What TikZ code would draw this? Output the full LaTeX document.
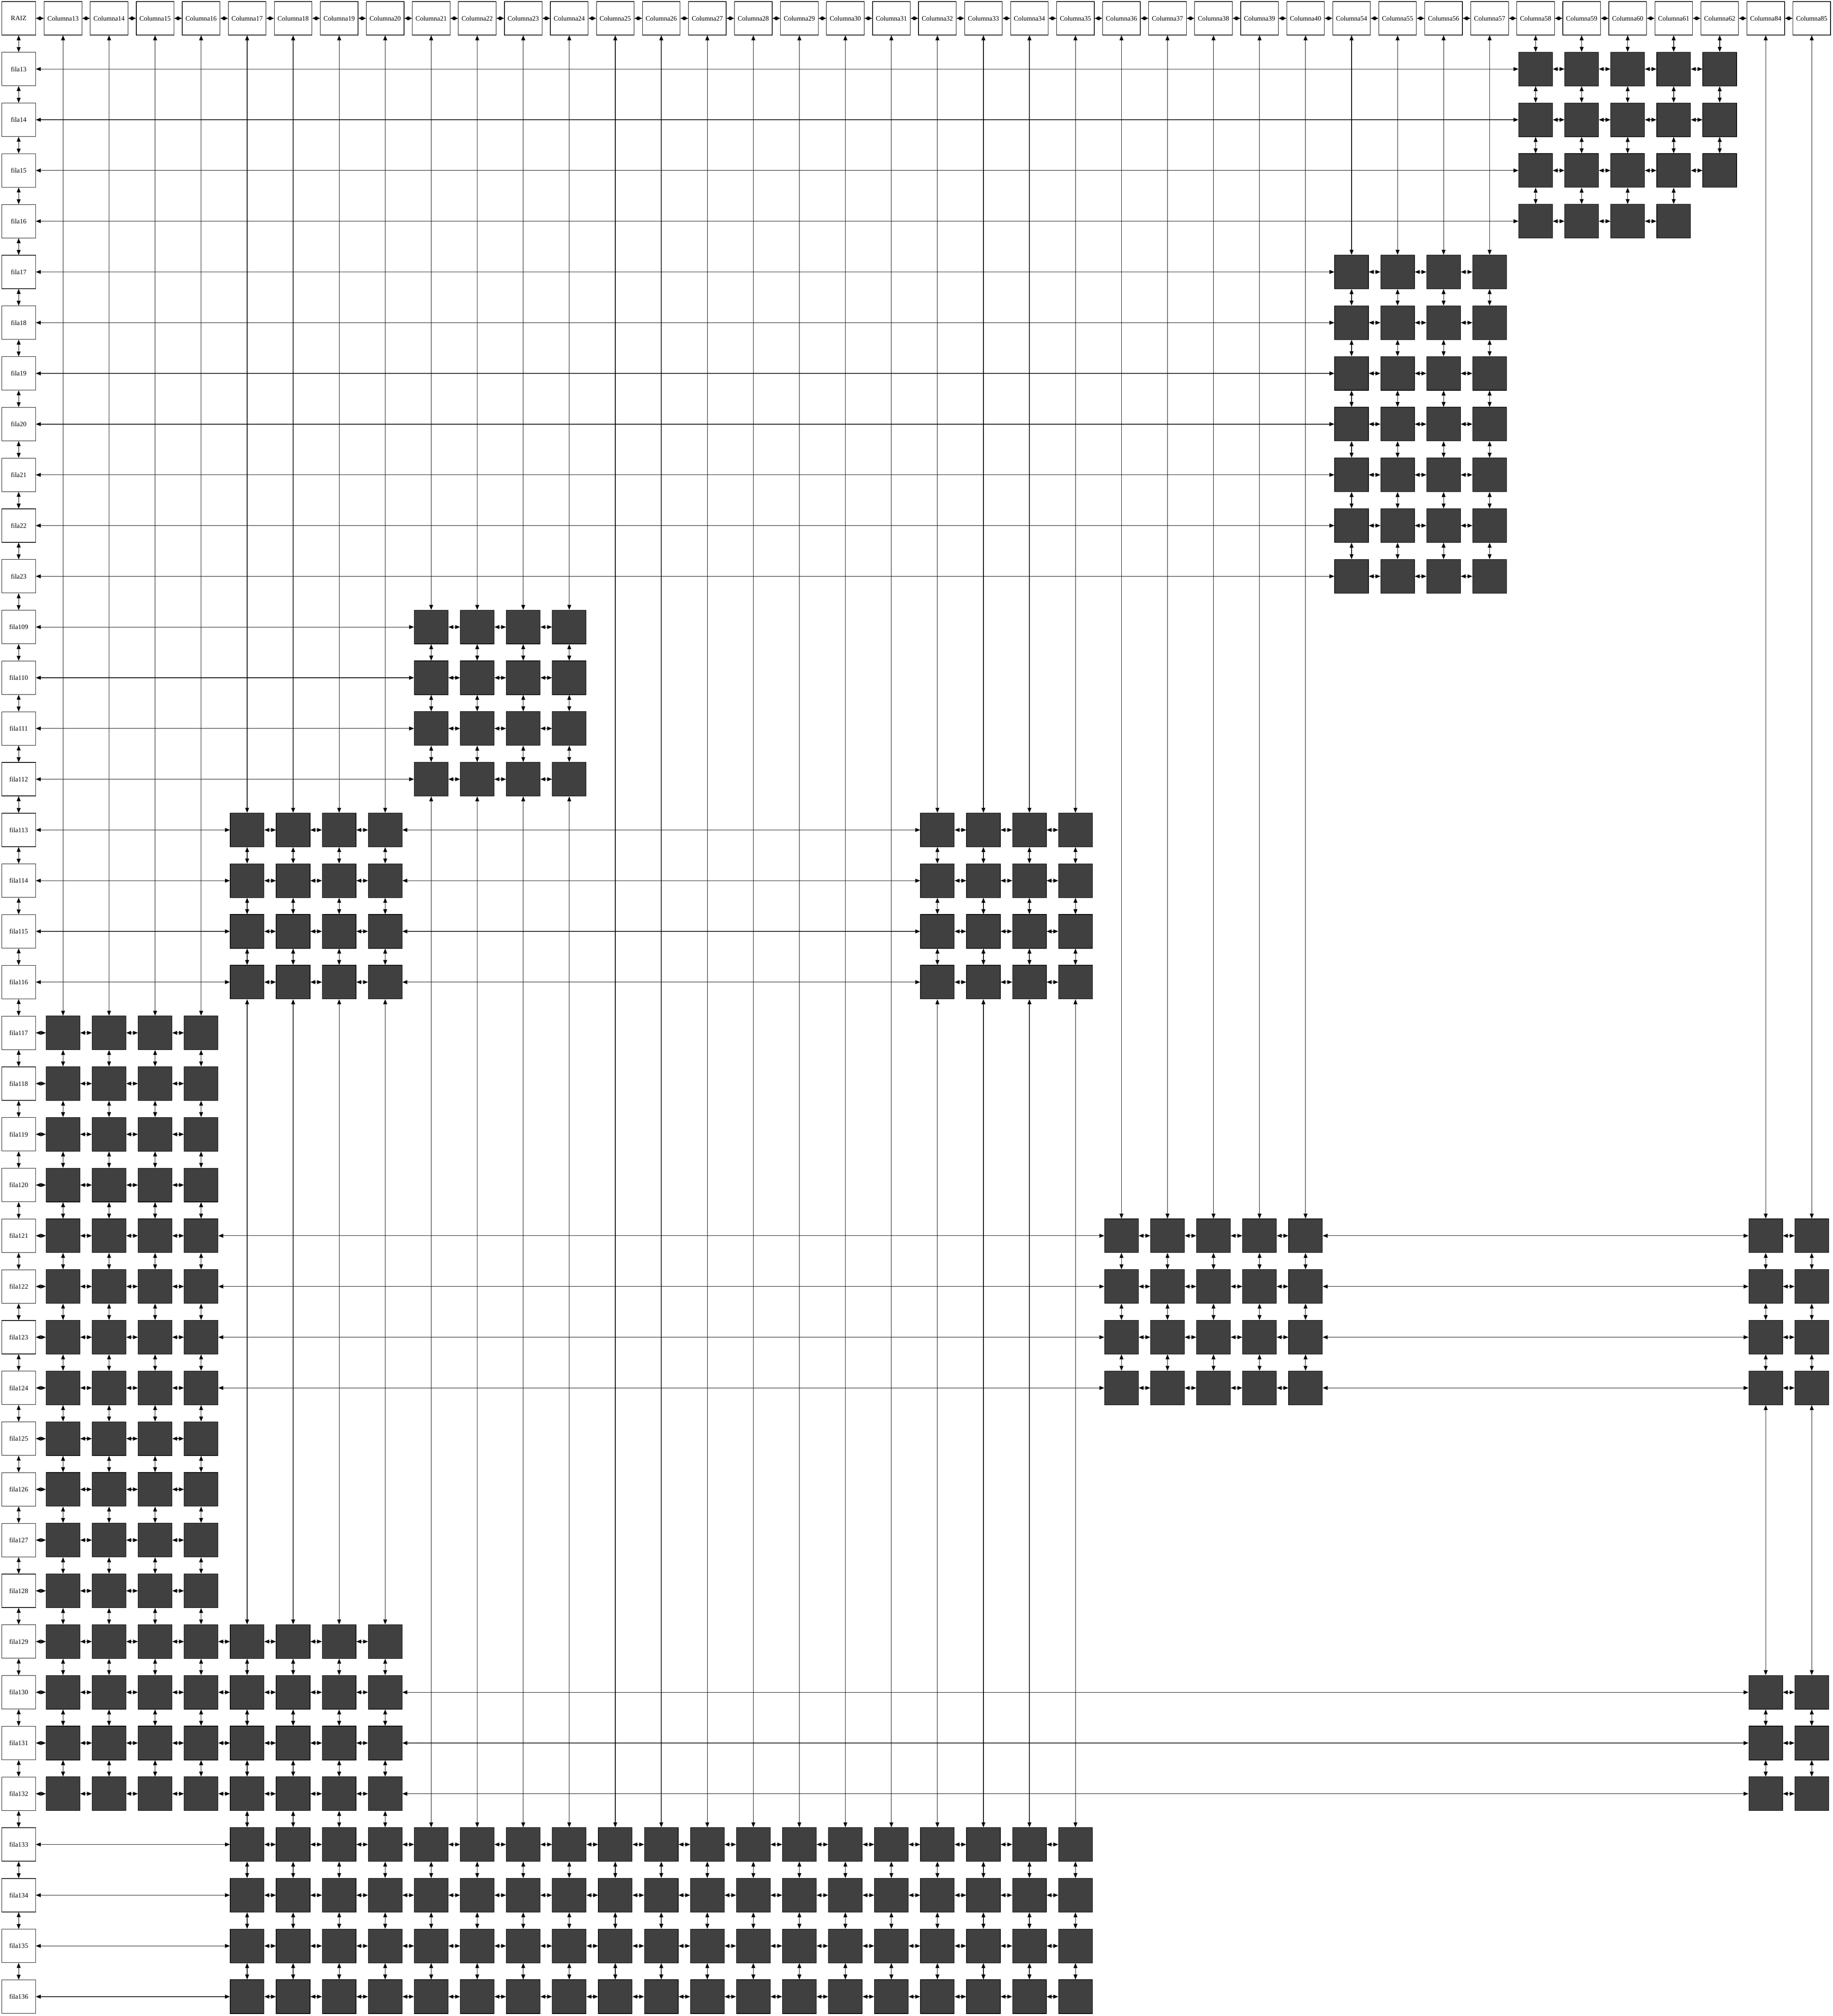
\documentclass[tikz,border=0pt]{standalone}
\usepackage{fontspec}
\setmainfont{Liberation Serif}
\usepackage{tikz}
\usetikzlibrary{arrows.meta}
\definecolor{celda}{RGB}{64,64,64}

\tikzset{
    cab/.style={draw, fill=white, inner sep=0pt, minimum width=0.96cm, minimum height=0.95cm, font=\fontsize{5.4}{6}\selectfont},
    cabcol/.style={cab, minimum width=1.07cm},
    celdabox/.style={draw, fill=celda, inner sep=0pt, minimum width=0.96cm, minimum height=0.96cm},
    enlace/.style={{Triangle[length=1.4mm,width=1.1mm]}-{Triangle[length=1.4mm,width=1.1mm]}, line width=0.4pt}
}

\begin{document}
\begin{tikzpicture}
        \useasboundingbox (0,0) rectangle (52.03,-57.23);
        \node[cab] (m0-0) at (0.53,-0.52) {RAIZ};
        \foreach \c [remember=\c as \p (initially 0), count=\i] in {13,...,40,54,55,...,62,84,85} {
            \node[cabcol] (m0-\c) at ({1.79+(\i-1)*1.3063},-0.52) {Columna\c};
            \draw[enlace] (m0-\p) -- (m0-\c);
        }
        \foreach \f [remember=\f as \p (initially 0), count=\i] in {13,...,23,109,110,...,136} {
            \node[cab] (m\f-0) at (0.53,{-0.52-\i*1.44}) {fila\f};
            \draw[enlace] (m\p-0) -- (m\f-0);
        }
        \foreach \fs/\cs in {{13,14,15}/{58,...,62}, {16}/{58,...,61}, {17,...,23}/{54,...,57},
                {109,...,112}/{21,...,24}, {113,...,116}/{17,...,20,32,33,...,35}, {117,...,120}/{13,...,16},
                {121,...,124}/{13,...,16,36,37,...,40,84,85}, {125,...,128}/{13,...,16}, {129}/{13,...,20},
                {130,...,132}/{13,...,20,84,85}, {133,...,136}/{17,...,35}} {
            \foreach \f in \fs {
                \foreach \c [remember=\c as \p (initially 0)] in \cs {
                    \node[celdabox] (m\f-\c) at (m0-\c |- m\f-0) {};
                    \draw[enlace] (m\f-\p) -- (m\f-\c);
                }
            }
        }
        \foreach \cs/\fs in {{13,...,16}/{117,...,132}, {17,...,20}/{113,...,116,129,130,...,136},
                {21,...,24}/{109,...,112,133,134,...,136}, {25,...,31}/{133,...,136},
                {32,...,35}/{113,...,116,133,134,...,136}, {36,...,40}/{121,...,124}, {54,...,57}/{17,...,23},
                {58,...,61}/{13,...,16}, {62}/{13,14,15}, {84,85}/{121,...,124,130,131,...,132}} {
            \foreach \c in \cs {
                \foreach \f [remember=\f as \p (initially 0)] in \fs {
                    \draw[enlace] (m\p-\c) -- (m\f-\c);
                }
            }
        }
    \end{tikzpicture}
\end{document}
